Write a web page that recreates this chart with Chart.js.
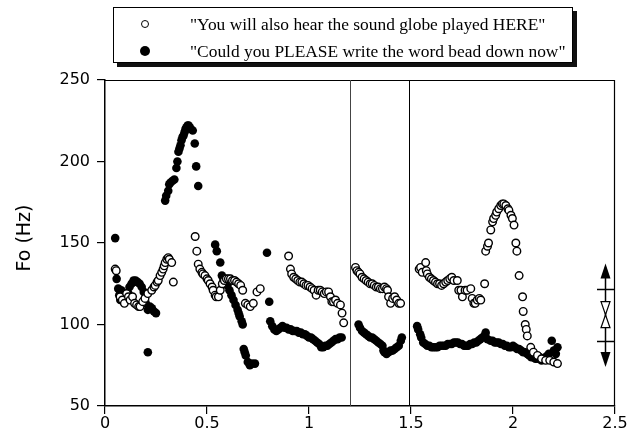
<!DOCTYPE html>
<html>
<head>
<meta charset="utf-8">
<script src="https://cdn.jsdelivr.net/npm/chart.js@4/dist/chart.umd.min.js"></script>
<style>
  html, body { margin: 0; padding: 0; background: #fff; }
  #wrap { position: relative; width: 636px; height: 437px; }
  #legend {
    position: absolute; left: 113px; top: 7px; width: 458px; height: 54px;
    border: 1px solid #000; background: #fff; box-shadow: 4px 4px 0 #111;
    font-family: "Liberation Serif", "Times New Roman", serif; font-size: 17.4px; color: #000;
  }
  .row { position: absolute; left: 0; height: 20px; line-height: 20px; white-space: nowrap; }
  .mk { position: absolute; left: 27px; top: 6px; width: 8px; height: 8px; border-radius: 50%; box-sizing: border-box; }
  .mk.open { border: 1.5px solid #000; background: #fff; }
  .mk.fill { background: #000; width: 10px; height: 10px; top: 5px; left: 26px; }
  .txt { position: absolute; left: 76px; top: 0; }
</style>
</head>
<body>
<div id="wrap">
  <canvas id="c" width="636" height="437"></canvas>
  <div id="legend">
    <div class="row" style="top:6px"><span class="mk open"></span><span class="txt" id="l1"></span></div>
    <div class="row" style="top:33px"><span class="mk fill"></span><span class="txt" id="l2"></span></div>
  </div>
</div>
<script>
// ---- data (time in s, F0 in Hz) ----
const seriesNames = ['"You will also hear the sound globe played HERE"', '"Could you PLEASE write the word bead down now"'];

const openTime = [0.05,0.055,0.074,0.085,0.095,0.106,0.115,0.123,0.135,0.145,0.155,0.165,0.172,0.185,0.196,0.21,0.229,0.24,0.246,0.255,0.261,0.27,0.278,0.285,0.29,0.295,0.303,0.31,0.315,0.327,0.335,
  0.442,0.45,0.457,0.465,0.475,0.48,0.49,0.5,0.506,0.515,0.525,0.53,0.54,0.545,0.556,0.565,0.575,0.585,0.595,0.605,0.615,0.625,0.635,0.645,0.655,0.665,0.675,0.688,0.7,0.712,0.727,0.745,0.761,
  0.9,0.909,0.915,0.925,0.935,0.945,0.955,0.965,0.975,0.985,0.995,1.005,1.015,1.025,1.035,1.045,1.055,1.065,1.075,1.085,1.096,1.105,1.112,1.12,1.13,1.14,1.154,1.162,1.17,
  1.228,1.235,1.243,1.25,1.26,1.27,1.28,1.29,1.3,1.31,1.32,1.33,1.34,1.35,1.36,1.37,1.38,1.385,1.39,1.4,1.41,1.42,1.43,1.44,1.449,
  1.54,1.547,1.555,1.572,1.575,1.58,1.59,1.6,1.61,1.62,1.63,1.64,1.65,1.66,1.67,1.68,1.69,1.7,1.71,1.727,1.734,1.745,1.752,1.765,1.775,1.793,1.8,1.808,1.815,1.825,1.835,1.842,1.861,
  1.866,1.875,1.88,1.891,1.9,1.905,1.915,1.92,1.93,1.94,1.948,1.955,1.965,1.975,1.98,1.99,1.997,2.005,2.014,2.019,2.03,2.047,2.05,2.06,2.065,2.07,2.087,2.1,2.12,2.14,2.16,2.18,2.2,2.218];
const openF0 = [134,133,117,115,113,119,117,115,117,113,112,111,111,114,116,119,121,123,124,126,127,130,132,134,136,138,140,141,140,138,126,
  154,145,137,134,132,131,130,128,127,125,123,121,118,117,117,121,125,127,128,128,128,127,127,126,125,124,121,113,112,111,113,120,122,
  142,134,131,129,128,127,126,126,125,124,124,123,122,121,118,121,121,120,119,120,120,117,114,114,115,113,112,107,101,
  135,133,132,131,129,128,127,126,125,125,124,123,123,122,122,123,122,121,117,113,116,117,115,113,113,
  134,135,132,138,133,131,129,128,127,126,125,125,124,125,126,127,128,129,127,127,121,121,117,121,121,122,116,113,113,115,116,115,125,
  145,148,150,158,163,165,167,169,171,173,174,174,173,171,170,167,165,161,150,145,130,117,108,100,97,93,86,83,81,79,78,78,77,76];

const filledTime = [0.05,0.057,0.065,0.07,0.075,0.08,0.085,0.09,0.1,0.105,0.115,0.12,0.13,0.14,0.15,0.16,0.17,0.18,0.19,0.195,0.2,0.21,0.22,0.23,0.24,0.25,0.21,
  0.295,0.3,0.31,0.315,0.32,0.33,0.34,0.35,0.355,0.36,0.365,0.37,0.375,0.38,0.385,0.39,0.395,0.4,0.405,0.41,0.415,0.42,0.43,0.44,0.447,0.457,
  0.54,0.548,0.565,0.573,0.58,0.59,0.6,0.61,0.62,0.63,0.64,0.65,0.655,0.66,0.67,0.675,0.68,0.685,0.69,0.7,0.71,0.72,0.735,
  0.794,0.805,0.81,0.82,0.83,0.84,0.85,0.86,0.87,0.88,0.89,0.9,0.91,0.92,0.93,0.94,0.95,0.96,0.97,0.98,0.99,1.0,1.01,1.02,1.03,1.04,1.05,1.06,1.07,1.08,1.09,1.1,1.11,1.12,1.13,1.14,1.15,1.16,
  1.243,1.25,1.26,1.27,1.28,1.29,1.3,1.31,1.32,1.33,1.34,1.35,1.36,1.365,1.37,1.38,1.39,1.4,1.41,1.42,1.43,1.44,1.45,1.455,
  1.53,1.535,1.545,1.55,1.56,1.57,1.58,1.59,1.6,1.61,1.62,1.63,1.64,1.65,1.66,1.67,1.68,1.69,1.7,1.71,1.72,1.73,1.74,1.75,1.76,1.77,1.78,1.79,1.8,1.81,1.82,1.83,1.84,1.85,1.86,1.866,1.875,
  1.89,1.9,1.91,1.92,1.93,1.94,1.95,1.96,1.97,1.98,1.99,2.0,2.01,2.02,2.03,2.04,2.05,2.06,2.07,2.08,2.09,2.1,2.11,2.12,2.13,2.14,2.15,2.16,2.17,2.176,2.19,2.2,2.21,2.218];
const filledF0 = [153,128,122,118,115,121,117,114,116,119,119,123,125,127,127,126,125,123,120,116,113,109,111,110,108,107,83,
  176,179,182,186,187,188,189,196,200,206,208,210,213,215,216,218,220,221,222,222,221,220,219,211,197,185,
  149,145,138,130,128,126,124,121,118,115,112,109,107,105,102,100,85,83,81,77,75,76,76,
  144,114,102,99,97,96,97,98,99,98,98,97,97,96,96,96,95,95,94,94,93,92,92,91,90,89,88,86,86,87,87,88,89,90,91,91,92,92,
  100,98,96,95,94,93,92,92,91,90,89,88,87,84,83,82,83,84,84,85,86,87,90,92,
  99,97,94,92,89,88,87,87,86,86,86,86,87,87,87,87,88,88,88,89,89,89,88,88,87,87,87,88,88,89,89,90,91,92,93,95,91,
  90,90,89,89,89,88,88,87,87,86,86,87,86,85,85,84,83,83,82,81,80,80,79,79,80,78,79,80,81,82,90,84,82,86];

// x positions of the two vertical boundary lines (s)
const boundaries = [1.2, 1.49];
// range marker at right: time, arrow tips, tick levels, hourglass centre (Hz)
const markerTime = 2.45;
const markerTips = [137.5, 74];
const markerTicks = [122, 90];
const markerMid = 106;

const xTicks = [0, 0.5, 1, 1.5, 2, 2.5];
const yTicks = [50, 100, 150, 200, 250];
const yTitle = 'Fo (Hz)';

document.getElementById('l1').textContent = seriesNames[0];
document.getElementById('l2').textContent = seriesNames[1];

const toPts = (xs, ys) => xs.map((x, i) => ({ x: x, y: ys[i] }));

const decor = {
  id: 'decor',
  afterDatasetsDraw(chart) {
    const { ctx, chartArea: a, scales: { x, y } } = chart;
    ctx.save();
    // frame top & right
    ctx.strokeStyle = '#000';
    ctx.lineWidth = 1.2;
    ctx.beginPath();
    ctx.moveTo(a.left, a.top + 0.5); ctx.lineTo(a.right - 0.5, a.top + 0.5); ctx.lineTo(a.right - 0.5, a.bottom);
    ctx.stroke();
    // boundaries
    boundaries.forEach((b, i) => {
      const px = Math.round(x.getPixelForValue(b)) + 0.5;
      ctx.strokeStyle = i === 0 ? '#444' : '#000';
      ctx.lineWidth = 1;
      ctx.beginPath(); ctx.moveTo(px, a.top); ctx.lineTo(px, a.bottom); ctx.stroke();
    });
    // range marker
    const mx = Math.round(x.getPixelForValue(markerTime)) + 0.5;
    const yt = y.getPixelForValue(markerTips[0]);
    const yb = y.getPixelForValue(markerTips[1]);
    ctx.strokeStyle = '#000'; ctx.fillStyle = '#000'; ctx.lineWidth = 1.5;
    ctx.beginPath(); ctx.moveTo(mx, yt + 4); ctx.lineTo(mx, yb - 4); ctx.stroke();
    ctx.beginPath(); ctx.moveTo(mx, yt); ctx.lineTo(mx - 5, yt + 15); ctx.lineTo(mx + 5, yt + 15); ctx.closePath(); ctx.fill();
    ctx.beginPath(); ctx.moveTo(mx, yb); ctx.lineTo(mx - 5, yb - 15); ctx.lineTo(mx + 5, yb - 15); ctx.closePath(); ctx.fill();
    markerTicks.forEach(v => {
      const py = Math.round(y.getPixelForValue(v)) + 0.5;
      ctx.lineWidth = 1.5;
      ctx.beginPath(); ctx.moveTo(mx - 8.5, py); ctx.lineTo(mx + 9.5, py); ctx.stroke();
    });
    const ym = y.getPixelForValue(markerMid);
    ctx.fillStyle = '#fff'; ctx.lineWidth = 1.2;
    ctx.beginPath(); ctx.moveTo(mx - 4.5, ym - 13); ctx.lineTo(mx + 4.5, ym - 13); ctx.lineTo(mx, ym); ctx.closePath(); ctx.fill(); ctx.stroke();
    ctx.beginPath(); ctx.moveTo(mx - 4.5, ym + 13); ctx.lineTo(mx + 4.5, ym + 13); ctx.lineTo(mx, ym); ctx.closePath(); ctx.fill(); ctx.stroke();
    // y-axis title
    ctx.fillStyle = '#000';
    ctx.font = '19px "DejaVu Sans", sans-serif';
    ctx.textAlign = 'center'; ctx.textBaseline = 'middle';
    ctx.translate(25, 238); ctx.rotate(-Math.PI / 2);
    ctx.fillText(yTitle, 0, 0);
    ctx.restore();
  }
};

const axisFont = { family: '"DejaVu Sans", sans-serif', size: 16 };

new Chart(document.getElementById('c'), {
  type: 'scatter',
  data: {
    datasets: [
      { label: seriesNames[0], data: toPts(openTime, openF0), pointStyle: 'circle', pointRadius: 3.8, pointHoverRadius: 3.8,
        backgroundColor: '#fff', borderColor: '#000', pointBorderWidth: 1.4 },
      { label: seriesNames[1], data: toPts(filledTime, filledF0), pointStyle: 'circle', pointRadius: 4.3, pointHoverRadius: 4.3,
        backgroundColor: '#000', borderColor: '#000', pointBorderWidth: 0 }
    ]
  },
  options: {
    responsive: false,
    animation: false,
    events: [],
    layout: { padding: { top: 80, right: 21, left: 0, bottom: 0 } },
    plugins: { legend: { display: false }, tooltip: { enabled: false } },
    scales: {
      x: {
        type: 'linear', min: 0, max: 2.5,
        afterBuildTicks: s => { s.ticks = xTicks.map(v => ({ value: v })); },
        afterFit: s => { s.height = 31; },
        ticks: { color: '#000', font: axisFont, padding: 0, maxRotation: 0, callback: v => String(v) },
        grid: { display: true, drawOnChartArea: false, drawTicks: true, tickLength: 8, color: '#000', lineWidth: 1.2 },
        border: { display: true, color: '#000', width: 1.5 }
      },
      y: {
        type: 'linear', min: 50, max: 250,
        afterBuildTicks: s => { s.ticks = yTicks.map(v => ({ value: v })); },
        afterFit: s => { s.width = 105; },
        ticks: { color: '#000', font: axisFont, padding: 7, callback: v => String(v) },
        grid: { display: true, drawOnChartArea: false, drawTicks: true, tickLength: 8, color: '#000', lineWidth: 1.2 },
        border: { display: true, color: '#000', width: 1.5 },
        title: { display: false }
      }
    }
  },
  plugins: [decor]
});
</script>
</body>
</html>
